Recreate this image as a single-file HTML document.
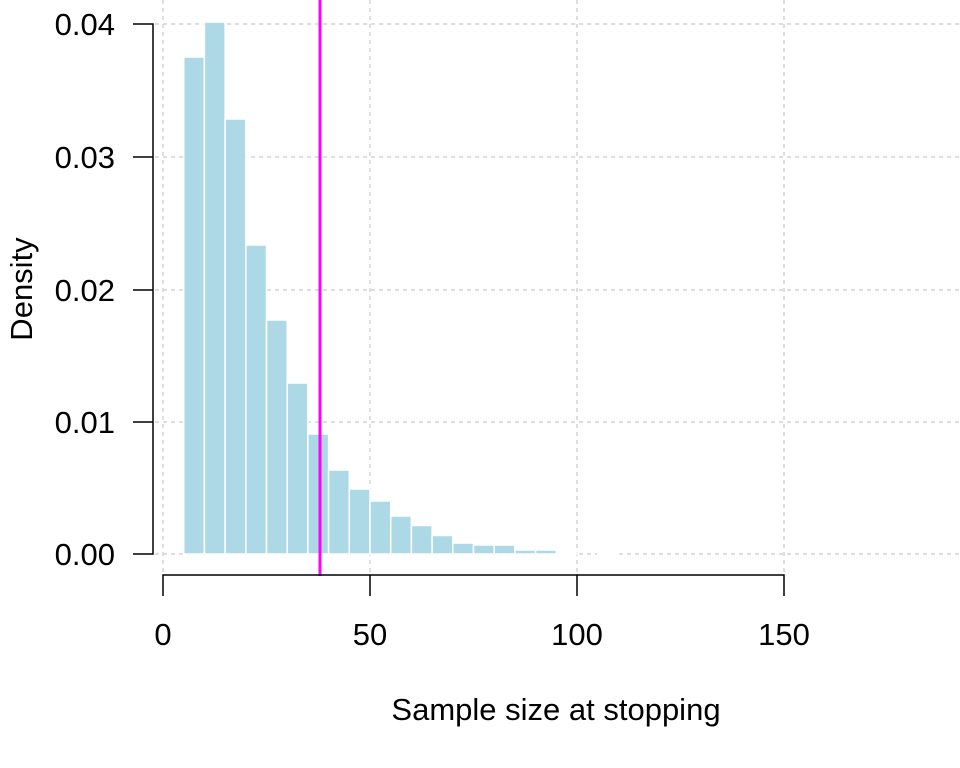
<!DOCTYPE html>
<html><head><style>body{margin:0;background:#fff}svg{display:block}text{font-family:"Liberation Sans",sans-serif;fill:#000}</style></head><body>
<svg width="960" height="768" xmlns="http://www.w3.org/2000/svg">
<g stroke="#d3d3d3" stroke-width="1.5" stroke-dasharray="4,4">
<line x1="163" y1="0" x2="163" y2="575"/><line x1="370" y1="0" x2="370" y2="575"/><line x1="577" y1="0" x2="577" y2="575"/><line x1="784" y1="0" x2="784" y2="575"/>
<line x1="155" y1="24" x2="960" y2="24"/><line x1="155" y1="157" x2="960" y2="157"/><line x1="155" y1="290" x2="960" y2="290"/><line x1="155" y1="422" x2="960" y2="422"/><line x1="155" y1="554" x2="960" y2="554"/>
</g>
<g fill="#add8e6" stroke="#fff" stroke-width="1.5">
<rect x="183.7" y="57" width="20.7" height="497"/>
<rect x="204.4" y="22" width="20.7" height="532"/>
<rect x="225.1" y="119" width="20.7" height="435"/>
<rect x="245.8" y="245" width="20.7" height="309"/>
<rect x="266.5" y="320" width="20.7" height="234"/>
<rect x="287.2" y="383" width="20.7" height="171"/>
<rect x="307.9" y="434" width="20.7" height="120"/>
<rect x="328.6" y="470" width="20.7" height="84"/>
<rect x="349.3" y="489" width="20.7" height="65"/>
<rect x="370" y="501" width="20.7" height="53"/>
<rect x="390.7" y="516" width="20.7" height="38"/>
<rect x="411.4" y="525.5" width="20.7" height="28.5"/>
<rect x="432.1" y="535.5" width="20.7" height="18.5"/>
<rect x="452.8" y="543" width="20.7" height="11"/>
<rect x="473.5" y="545" width="20.7" height="9"/>
<rect x="494.2" y="545" width="20.7" height="9"/>
<rect x="514.9" y="550" width="20.7" height="4"/>
<rect x="535.6" y="550" width="20.7" height="4"/>
<rect x="556.3" y="553" width="20.7" height="1"/>
<rect x="597.7" y="553.3" width="20.7" height="0.7"/>
</g>
<line x1="320" y1="0" x2="320" y2="576" stroke="#ff00ff" stroke-width="3"/>
<g stroke="#000" stroke-width="1.5" fill="none">
<path d="M133 24H153V554H133M153 157H133M153 290H133M153 422H133"/>
<path d="M163 596V575H784V596M370 575V596M577 575V596"/>
</g>
<g font-size="31" text-anchor="end">
<text x="115" y="35">0.04</text><text x="115" y="168">0.03</text><text x="115" y="301">0.02</text><text x="115" y="433">0.01</text><text x="115" y="565">0.00</text>
</g>
<g font-size="31" text-anchor="middle">
<text x="163" y="645">0</text><text x="370" y="645">50</text><text x="577" y="645">100</text><text x="784" y="645">150</text>
<text x="556" y="720">Sample size at stopping</text>
<text transform="translate(32,289) rotate(-90)">Density</text>
</g>
</svg>
</body></html>
